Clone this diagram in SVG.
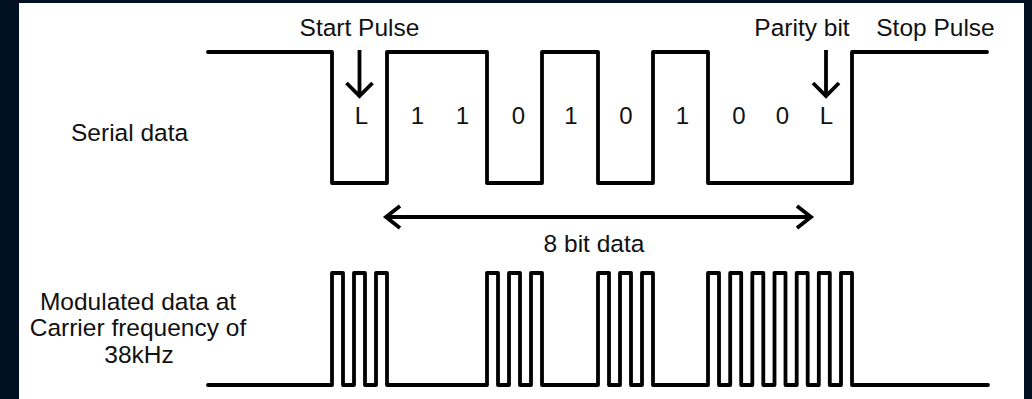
<svg xmlns="http://www.w3.org/2000/svg" width="1032" height="399" viewBox="0 0 1032 399">
<style>
.bg{fill:#021024}
.panel{fill:#ffffff}
.wave{fill:none;stroke:#000;stroke-width:3.8;stroke-linejoin:round;stroke-linecap:round}
.arr{fill:none;stroke:#000;stroke-width:3.8;stroke-linejoin:miter;stroke-linecap:butt}
.lbl{font-family:"Liberation Sans",Arial,sans-serif;font-size:24.5px;fill:#111}
.bit{font-family:"Liberation Sans",Arial,sans-serif;font-size:24px;fill:#111;text-anchor:middle}
.mid{text-anchor:middle}
</style>
<rect class="bg" x="0" y="0" width="1032" height="399"/>
<rect class="panel" x="19" y="3" width="1005" height="396"/>

<g id="serial-data">
<path class="wave" d="M208,52 H332 V183 H387 V52 H487 V183 H542 V52 H598 V183 H653 V52 H708 V183 H852 V52 H987"/>
<text class="lbl" x="71" y="141">Serial data</text>
<g id="bits">
<text class="bit" x="361.5" y="123.5">L</text>
<text class="bit" x="417.5" y="123.5">1</text>
<text class="bit" x="462.5" y="123.5">1</text>
<text class="bit" x="518.5" y="123.5">0</text>
<text class="bit" x="571" y="123.5">1</text>
<text class="bit" x="626" y="123.5">0</text>
<text class="bit" x="682.5" y="123.5">1</text>
<text class="bit" x="739" y="123.5">0</text>
<text class="bit" x="782.5" y="123.5">0</text>
<text class="bit" x="826.5" y="123.5">L</text>
</g>
</g>

<g id="modulated-data">
<path class="wave" d="M208,385 H332 V273 H343 V385 H354 V273 H365 V385 H376 V273 H387 V385 H487 V273 H498 V385 H509 V273 H520 V385 H531 V273 H542 V385 H598 V273 H609 V385 H620 V273 H631 V385 H642 V273 H653 V385 H708 V273 H719 V385 H730.2 V273 H741.2 V385 H752.3 V273 H763.3 V385 H774.5 V273 H785.5 V385 H796.7 V273 H807.7 V385 H818.8 V273 H829.8 V385 H841 V273 H852 V385 H988"/>
<text class="lbl mid" x="138" y="309.5">Modulated data at</text>
<text class="lbl mid" x="138" y="336">Carrier frequency of</text>
<text class="lbl mid" x="139" y="362.5">38kHz</text>
</g>

<g id="start-pulse">
<text class="lbl mid" x="359.5" y="36">Start Pulse</text>
</g>
<g id="parity-bit">
<text class="lbl mid" x="802" y="36">Parity bit</text>
</g>
<g id="stop-pulse">
<text class="lbl mid" x="935.5" y="36">Stop Pulse</text>
</g>
<g id="data-span">
<text class="lbl mid" x="594" y="252">8 bit data</text>
</g>

<g id="connectors">
<line class="arr" x1="359.5" y1="50" x2="359.5" y2="94"/>
<polyline class="arr" points="346.5,83 359.5,96 372.5,83"/>
<line class="arr" x1="826" y1="50" x2="826" y2="94"/>
<polyline class="arr" points="813,83 826,96 839,83"/>
<line class="arr" x1="387" y1="217" x2="810" y2="217"/>
<polyline class="arr" points="400,206 386,217 400,228"/>
<polyline class="arr" points="797,206 811,217 797,228"/>
</g>
</svg>
